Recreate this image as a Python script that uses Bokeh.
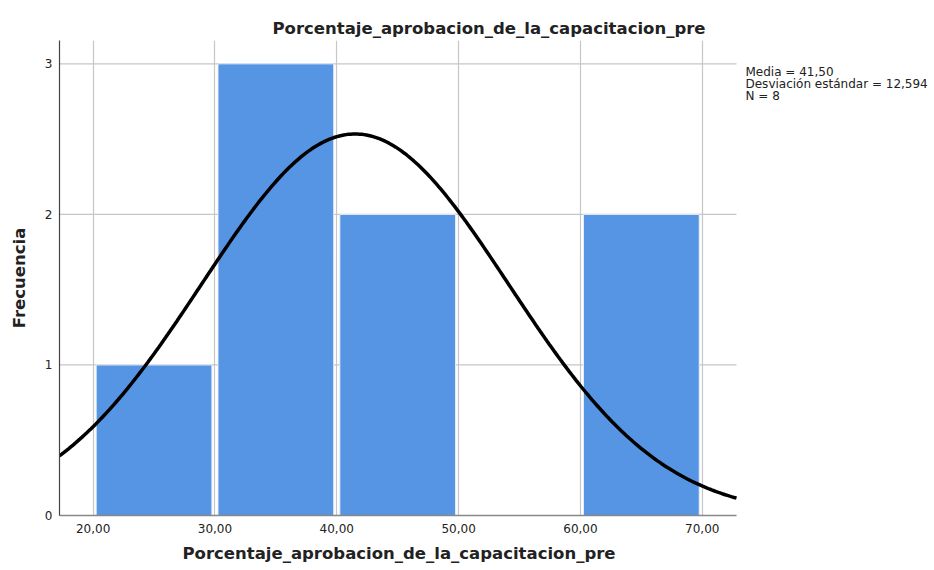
import math
from bokeh.plotting import figure
from bokeh.models import FixedTicker, Label, Range1d, Title
from bokeh.embed import file_html
from bokeh.resources import INLINE

# ---- data ----
title_text = "Porcentaje_aprobacion_de_la_capacitacion_pre"
x_label = "Porcentaje_aprobacion_de_la_capacitacion_pre"
y_label = "Frecuencia"
bin_edges = [20, 30, 40, 50, 60, 70]
counts = [1, 3, 2, 0, 2]
x_ticks = [20, 30, 40, 50, 60, 70]
x_tick_labels = ["20,00", "30,00", "40,00", "50,00", "60,00", "70,00"]
y_ticks = [0, 1, 2, 3]
mean_val = 41.50
sd_val = 12.594
n_val = 8
stats_lines = ["Media = 41,50", "Desviación estándar = 12,594", "N = 8"]

FONT = "DejaVu Sans"
W, H = 934, 570
LEFT, TOP, BOTTOM = 59, 40, 55
PLOT_W = 677            # width of the drawn plot area in px
x_start, x_end = 17.24, 72.81
y_start, y_end = 0, 3.155
frame_w = W - LEFT
x_view_end = x_start + frame_w * (x_end - x_start) / PLOT_W

p = figure(width=W, height=H, output_backend="svg", toolbar_location=None,
           x_range=Range1d(x_start, x_view_end), y_range=Range1d(y_start, y_end),
           min_border_left=LEFT, min_border_right=0, min_border_top=TOP,
           min_border_bottom=BOTTOM)
p.outline_line_color = None
p.background_fill_color = "white"
p.border_fill_color = "white"

# grid
p.xgrid.ticker = FixedTicker(ticks=x_ticks)
p.xgrid.grid_line_color = "#c6c6c6"
p.xgrid.grid_line_width = 1.2
p.ygrid.visible = False
p.segment(x0=[x_start] * len(y_ticks), x1=[x_end] * len(y_ticks),
          y0=y_ticks, y1=y_ticks, line_color="#c6c6c6", line_width=1.2)

# bars
centers = [(a + b) / 2 for a, b in zip(bin_edges[:-1], bin_edges[1:])]
bw = bin_edges[1] - bin_edges[0]
p.vbar(x=centers, top=counts, width=bw * 0.95, bottom=0,
       fill_color="#5595e3", line_color="#e6eef8", line_width=1)

# normal curve from mean / sd / N
xs = [x_start + i * (x_end - x_start) / 300 for i in range(301)]
ys = [n_val * bw / (sd_val * math.sqrt(2 * math.pi)) *
      math.exp(-0.5 * ((x - mean_val) / sd_val) ** 2) for x in xs]
p.line(xs, ys, line_color="black", line_width=3.5)

# axes
p.xaxis.ticker = FixedTicker(ticks=x_ticks)
p.xaxis.bounds = (x_start, x_end)
p.xaxis.major_label_overrides = {t: l for t, l in zip(x_ticks, x_tick_labels)}
p.yaxis.ticker = FixedTicker(ticks=y_ticks)
for ax in (p.xaxis, p.yaxis):
    ax.major_tick_out = 0
    ax.major_tick_in = 0
    ax.minor_tick_out = 0
    ax.minor_tick_in = 0
    ax.major_label_text_font = FONT
    ax.major_label_text_font_size = "12px"
    ax.major_label_text_color = "#222222"
    ax.axis_label_text_font = FONT
    ax.axis_label_text_font_style = "bold"
    ax.axis_label_text_font_size = "16.5px"
    ax.axis_label_text_color = "#222222"
p.xaxis.axis_line_color = "#888888"
p.xaxis.axis_line_width = 1.5
p.yaxis.axis_line_color = "#444444"
p.yaxis.axis_line_width = 1.2
p.xaxis.major_label_standoff = 8
p.yaxis.major_label_standoff = 7
p.yaxis.axis_label = y_label
p.yaxis.axis_label_standoff = 13

# title
p.title.text = title_text
p.title.align = "left"
p.title.offset = 213
p.title.standoff = 6
p.title.text_font = FONT
p.title.text_font_style = "bold"
p.title.text_font_size = "16.5px"
p.title.text_color = "#222222"

# x-axis label, centred under the drawn plot area
p.add_layout(Title(text=x_label, align="left", offset=123, standoff=13,
                   text_font=FONT, text_font_style="bold",
                   text_font_size="16.5px", text_color="#222222"), "below")

# stats
for i, s in enumerate(stats_lines):
    p.add_layout(Label(x=x_end, y=3, x_offset=9, y_offset=-1 - 12 * i,
                       text=s, text_align="left", text_baseline="top",
                       text_font=FONT, text_font_size="12px",
                       text_color="#222222"))

open("out.html", "w").write(file_html(p, INLINE))
